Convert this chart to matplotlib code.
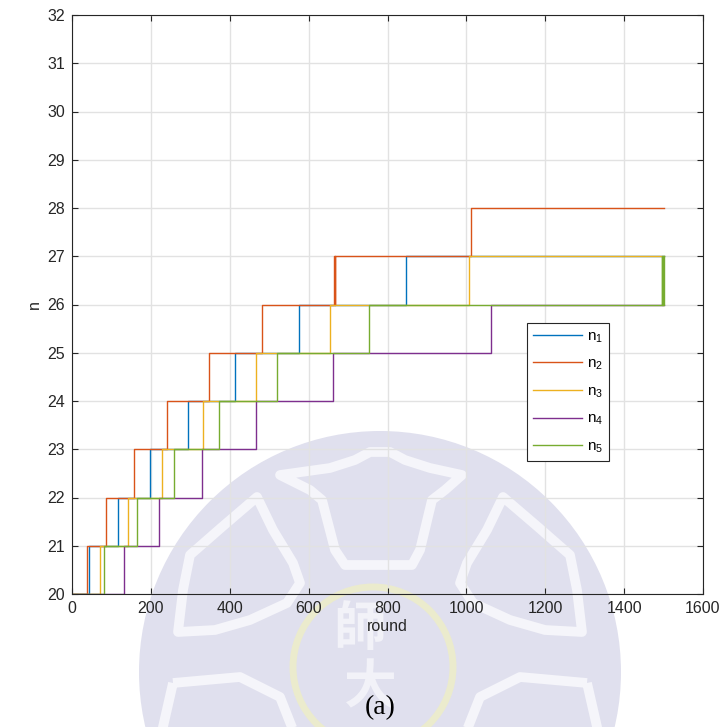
import matplotlib
matplotlib.use("Agg")
import matplotlib.pyplot as plt
from matplotlib.patches import Ellipse, Polygon
import numpy as np

plt.rcParams['font.family'] = ['Liberation Sans', 'DejaVu Sans']
plt.rcParams['mathtext.default'] = 'regular'

# rounds at which each node count changes, and the level reached there
r1 = [0, 44, 116, 197, 295, 414, 576, 848, 1500]
v1 = [20, 21, 22, 23, 24, 25, 26, 27, 27]
r2 = [0, 37, 85, 156, 242, 347, 481, 664, 666, 667, 1012, 1014, 1500]
v2 = [20, 21, 22, 23, 24, 25, 26, 27, 26, 27, 28, 28, 28]
r3 = [0, 71, 142, 228, 332, 466, 655, 1006, 1500]
v3 = [20, 21, 22, 23, 24, 25, 26, 27, 27]
r4 = [0, 132, 221, 329, 466, 663, 1062, 1500]
v4 = [20, 21, 22, 23, 24, 25, 26, 26]
r5 = [0, 82, 166, 259, 372, 521, 752, 1495, 1497, 1498, 1499, 1500]
v5 = [20, 21, 22, 23, 24, 25, 26, 27, 26, 27, 26, 27]

labels = ['n_1', 'n_2', 'n_3', 'n_4', 'n_5']
colors = ['#0072BD', '#D95319', '#EDB120', '#7E2F8E', '#77AC30']

W, H = 724, 727
fig = plt.figure(figsize=(W / 100, H / 100), dpi=100)

# faint emblem behind the plot, drawn in pixel coordinates
bg = fig.add_axes([0, 0, 1, 1], zorder=-1)
bg.set_xlim(0, W)
bg.set_ylim(H, 0)
bg.axis('off')
bg.add_patch(Ellipse((380, 672), 482, 482, color='#e0e0ee', lw=0))
band = dict(closed=True, fill=False, ec='#f5f5fa', lw=7, joinstyle='round')
cup = [(280, 475), (330, 468), (355, 460), (370, 452), (390, 452), (405, 460),
       (430, 468), (462, 475), (445, 490), (432, 500), (420, 550), (412, 565),
       (345, 565), (335, 550), (322, 500), (310, 490)]
petal = [(257, 497), (222, 527), (190, 555), (183, 590), (178, 632), (215, 630),
         (250, 620), (287, 603), (300, 583), (293, 563), (273, 530)]
low = [(173, 683), (240, 677), (280, 697), (297, 740), (160, 740)]
for shape in (cup, petal, [(760 - x, y) for x, y in petal],
              low, [(760 - x, y) for x, y in low]):
    bg.add_patch(Polygon(shape, **band))
bg.add_patch(Ellipse((373, 667), 160, 160, fill=False, ec='#ebebcd', lw=5))
bg.text(360, 630, '師', fontsize=38, color='#f2f2f8', ha='center', va='center',
        family=['Noto Sans CJK TC'], weight='bold')
bg.text(370, 688, '大', fontsize=38, color='#f2f2f8', ha='center', va='center',
        family=['Noto Sans CJK TC'], weight='bold')

ax = fig.add_axes([72 / W, 1 - 594 / H, 631 / W, 579 / H])
ax.set_facecolor('none')

series = [(r1, v1), (r2, v2), (r3, v3), (r4, v4), (r5, v5)]
for (r, v), lab, c in zip(series, labels, colors):
    ax.step(r, v, where='post', color=c, lw=1.0, label='$' + lab + '$')

ax.set_xlim(0, 1600)
ax.set_ylim(20, 32)
ax.set_xticks(np.arange(0, 1601, 200))
ax.set_yticks(np.arange(20, 33, 1))
ax.grid(True, color='#e2e2e2', lw=1.0)
ax.set_axisbelow(True)
ax.tick_params(direction='in', length=4.5, width=0.8, color='#262626',
               labelsize=11.5, labelcolor='#262626', top=True, right=True, pad=5)
for s in ax.spines.values():
    s.set_color('#262626')
    s.set_linewidth(0.8)

ax.set_xlabel('round', fontsize=11.5, color='#262626', labelpad=2)
ax.set_ylabel('n', fontsize=11.5, color='#262626', labelpad=4)

leg = ax.legend(loc='upper left', bbox_to_anchor=((527 - 72) / 631, (594 - 323) / 579),
                borderaxespad=0, fancybox=False, edgecolor='#262626', framealpha=1,
                fontsize=11, handlelength=3.2, labelspacing=0.8, handletextpad=0.3,
                borderpad=0.4)
leg.get_frame().set_linewidth(0.8)

fig.text(380 / W, 1 - 708 / H, '(a)', fontsize=20, family='Liberation Serif',
         ha='center', va='center', color='black')

fig.savefig('out.png', dpi=100)
